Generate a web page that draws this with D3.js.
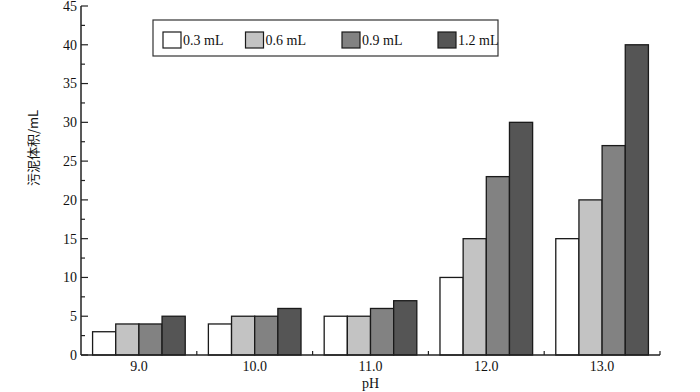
<!DOCTYPE html>
<html><head><meta charset="utf-8">
<script src="https://cdn.jsdelivr.net/npm/d3@7"></script>
<style>body{margin:0;background:#fff}svg{display:block}</style>
</head><body><svg id="c" width="700" height="392"></svg>
<script>
const categories = ["9.0","10.0","11.0","12.0","13.0"];
const seriesNames = ["0.3 mL","0.6 mL","0.9 mL","1.2 mL"];
const s03 = [3,4,5,10,15];
const s06 = [4,5,5,15,20];
const s09 = [4,5,6,23,27];
const s12 = [5,6,7,30,40];
const yTicks = [0,5,10,15,20,25,30,35,40,45];
const colors = ["#ffffff","#c3c3c3","#828282","#555555"];
const seriesValues = [s03,s06,s09,s12];

const svg = d3.select("#c");
const font = "'Liberation Serif','Times New Roman',serif";
const L = 81, R = 660, T = 6, B = 355;

const x = d3.scaleBand().domain(categories).range([L,R]).paddingInner(0.2).paddingOuter(0.1);
const xs = d3.scaleBand().domain(seriesNames).range([0,x.bandwidth()]);
const y = d3.scaleLinear().domain([0,45]).range([B,T]);

// bars
const rows = categories.map((c,i)=>({c, vals: seriesNames.map((s,j)=>({s, j, v: seriesValues[j][i]}))}));
const g = svg.append("g");
g.selectAll("g.grp").data(rows).join("g")
  .attr("transform", d=>`translate(${x(d.c)},0)`)
  .selectAll("rect").data(d=>d.vals).join("rect")
  .attr("x", d=>xs(d.s)).attr("width", xs.bandwidth())
  .attr("y", d=>y(d.v)).attr("height", d=>B - y(d.v))
  .attr("fill", d=>colors[d.j]).attr("stroke","#1a1a1a").attr("stroke-width",1.3);

// y axis
const ya = svg.append("g").attr("transform",`translate(${L},0)`);
ya.append("line").attr("x1",0).attr("x2",0).attr("y1",T).attr("y2",B).attr("stroke","#222").attr("stroke-width",1.5);
ya.selectAll("line.maj").data(yTicks).join("line").attr("class","maj")
  .attr("x1",0).attr("x2",7).attr("y1",d=>y(d)).attr("y2",d=>y(d)).attr("stroke","#222").attr("stroke-width",1.2);
ya.selectAll("line.min").data(yTicks.slice(0,-1)).join("line").attr("class","min")
  .attr("x1",0).attr("x2",4).attr("y1",d=>y(d+2.5)).attr("y2",d=>y(d+2.5)).attr("stroke","#222").attr("stroke-width",1.2);
ya.selectAll("text").data(yTicks).join("text")
  .attr("x",-4).attr("y",d=>y(d)).attr("dy","0.35em").attr("text-anchor","end")
  .attr("font-family",font).attr("font-size",14).attr("fill","#111").text(d=>d);

// x axis
const xa = svg.append("g");
xa.append("line").attr("x1",L).attr("x2",R).attr("y1",B).attr("y2",B).attr("stroke","#222").attr("stroke-width",1.5);
const step = x.step();
xa.selectAll("line.t").data(categories).join("line").attr("class","t")
  .attr("x1",d=>x(d)+x.bandwidth()+step*0.1).attr("x2",d=>x(d)+x.bandwidth()+step*0.1)
  .attr("y1",B).attr("y2",B-4).attr("stroke","#222").attr("stroke-width",1.2);
xa.selectAll("text").data(categories).join("text")
  .attr("x",d=>x(d)+x.bandwidth()/2).attr("y",B+16).attr("text-anchor","middle")
  .attr("font-family",font).attr("font-size",14).attr("fill","#111").text(d=>d);
svg.append("text").attr("x",(L+R)/2).attr("y",388).attr("text-anchor","middle")
  .attr("font-family",font).attr("font-size",14).attr("fill","#111").text("pH");

// y title
svg.append("text").attr("transform","translate(38,148) rotate(-90)").attr("text-anchor","middle")
  .attr("font-family","'Noto Sans CJK SC',"+font).attr("font-size",13).attr("fill","#111").text("污泥体积/mL");

// legend
const lg = svg.append("g");
lg.append("rect").attr("x",153).attr("y",20).attr("width",345).attr("height",36)
  .attr("fill","#fff").attr("stroke","#333").attr("stroke-width",1.2);
const offs = [163,245.5,342,438];
const items = lg.selectAll("g.it").data(seriesNames).join("g").attr("class","it")
  .attr("transform",(d,i)=>`translate(${offs[i]},32)`);
items.append("rect").attr("width",18).attr("height",16).attr("fill",(d,i)=>colors[i]).attr("stroke","#1a1a1a").attr("stroke-width",1.2);
items.append("text").attr("x",20).attr("y",8).attr("dy","0.35em")
  .attr("font-family",font).attr("font-size",14).attr("fill","#111").text(d=>d);
</script></body></html>
